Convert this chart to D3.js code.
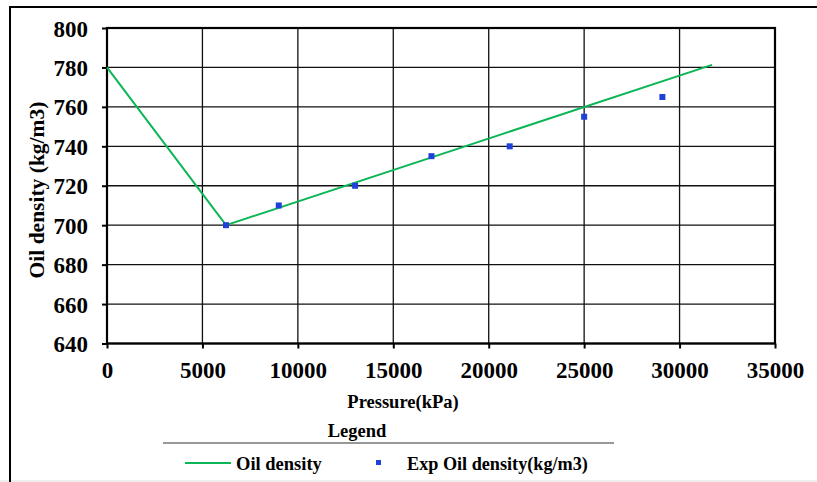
<!DOCTYPE html>
<html><head><meta charset="utf-8">
<script src="https://cdn.jsdelivr.net/npm/d3@7"></script>
<style>body{margin:0;background:#fff;}</style>
</head><body>
<svg id="c" width="817" height="482"></svg>
<script>
const xTicks = [0,5000,10000,15000,20000,25000,30000,35000];
const yTicks = [640,660,680,700,720,740,760,780,800];
const modelPressure = [0,6235,31700];
const modelDensity = [780,700,781.3];
const expPressure = [6235,9000,13000,17000,21100,25000,29100];
const expDensity = [700,710,720,735,740,755,765];

const FONT = "'Liberation Serif','Times New Roman',serif";
const svg = d3.select("#c");
const L=107,R=775,T=28,B=343.5;
const x = d3.scaleLinear().domain([0,35000]).range([L,R]);
const y = d3.scaleLinear().domain([640,800]).range([B,T]);

// outer frame
svg.append("rect").attr("x",0).attr("y",480).attr("width",817).attr("height",2).attr("fill","#eee");
svg.append("path").attr("d","M10,482V7H817").attr("fill","none").attr("stroke","#000").attr("stroke-width",2);

// grid
const g = svg.append("g");
g.selectAll(".vg").data(xTicks).join("line").attr("x1",d=>x(d)).attr("x2",d=>x(d)).attr("y1",T).attr("y2",B).attr("stroke","#111").attr("stroke-width",1.3);
g.selectAll(".hg").data(yTicks).join("line").attr("y1",d=>y(d)).attr("y2",d=>y(d)).attr("x1",L).attr("x2",R).attr("stroke","#111").attr("stroke-width",1.3);
svg.append("rect").attr("x",L).attr("y",T).attr("width",R-L).attr("height",B-T).attr("fill","none").attr("stroke","#000").attr("stroke-width",2.2);

// axes
const xa = svg.append("g").attr("transform",`translate(0,${B})`).call(d3.axisBottom(x).tickValues(xTicks).tickSize(5).tickPadding(13).tickFormat(d3.format("d")));
const ya = svg.append("g").attr("transform",`translate(${L},0)`).call(d3.axisLeft(y).tickValues(yTicks).tickSize(5).tickPadding(14).tickFormat(d3.format("d")));
[xa,ya].forEach(a=>{a.attr("font-family",FONT).attr("font-size",23).attr("font-weight","bold");a.select(".domain").remove();a.selectAll("line").attr("stroke","#000").attr("stroke-width",2);a.selectAll("text").attr("fill","#000");});
ya.selectAll("text").attr("dy","0.35em");

// line
const line = d3.line().x(d=>x(d[0])).y(d=>y(d[1]));
svg.append("path").datum(modelPressure.map((p,i)=>[p,modelDensity[i]])).attr("d",line).attr("fill","none").attr("stroke","#0cb556").attr("stroke-width",2);
// points
svg.selectAll(".pt").data(expPressure.map((p,i)=>[p,expDensity[i]])).join("rect").attr("x",d=>x(d[0])-3).attr("y",d=>y(d[1])-3).attr("width",6).attr("height",6).attr("fill","#1f41d9");

function label(sel,size){return sel.attr("font-family",FONT).attr("font-weight","bold").attr("font-size",size||18).attr("fill","#000");}
// titles
label(svg.append("text"),18.5).attr("x",403).attr("y",408).attr("text-anchor","middle").text("Pressure(kPa)");
label(svg.append("text"),21.5).attr("transform","translate(44,190) rotate(-90)").attr("text-anchor","middle").text("Oil density (kg/m3)");

// legend
label(svg.append("text"),18.5).attr("x",357).attr("y",437).attr("text-anchor","middle").text("Legend");
svg.append("line").attr("x1",163).attr("x2",614).attr("y1",443).attr("y2",443).attr("stroke","#333").attr("stroke-width",1.2);
svg.append("line").attr("x1",185).attr("x2",231).attr("y1",463).attr("y2",463).attr("stroke","#0cb556").attr("stroke-width",2);
label(svg.append("text"),18.5).attr("x",236).attr("y",470).text("Oil density");
svg.append("rect").attr("x",376).attr("y",460).attr("width",5).attr("height",5).attr("fill","#1f41d9");
label(svg.append("text"),18.2).attr("x",407).attr("y",470).text("Exp Oil density(kg/m3)");
</script>
</body></html>
